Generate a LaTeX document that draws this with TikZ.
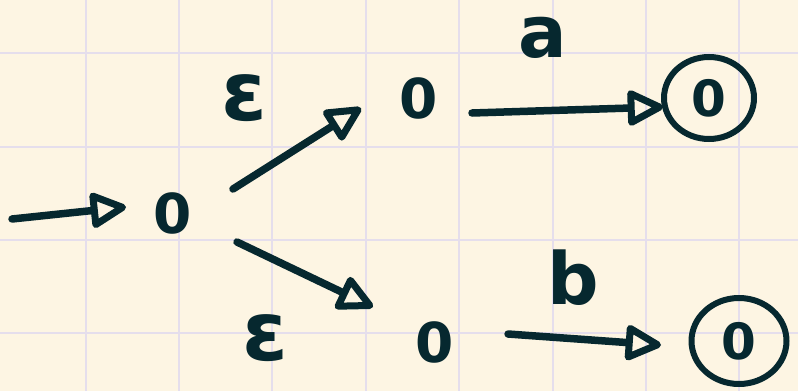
\documentclass[tikz,border=0pt]{standalone}
\usepackage{fontspec}
\setmainfont{DejaVu Sans}
\usetikzlibrary{arrows.meta,shapes.geometric}
\definecolor{ink}{RGB}{6,40,47}
\definecolor{paper}{RGB}{253,245,227}
\definecolor{gridc}{RGB}{229,222,236}
\tikzset{
  gridline/.style={draw=gridc, line width=1.6pt},
  zst/.style={font=\fontsize{55}{60}\selectfont\bfseries, text=ink, inner sep=0pt},
  accst/.style={draw=ink, line width=6pt, ellipse, inner sep=0pt, text=ink,
    font=\fontsize{50}{54}\selectfont\bfseries},
  lbl/.style={font=\fontsize{72}{76}\selectfont\bfseries, text=ink, inner sep=0pt},
  eps/.style={font=\fontsize{82}{86}\selectfont\bfseries, text=ink, inner sep=0pt},
  arr/.style={draw=ink, line width=7.5pt, line cap=round, line join=round,
    -{Triangle[open, length=40pt, width=38pt, line width=7pt, line join=round]}}
}
\begin{document}
\begin{tikzpicture}[x=1pt, y=-1pt]
\useasboundingbox (0,0) rectangle (798,391);
\fill[paper] (0,0) rectangle (798,391);
\foreach \x in {86,179,272,366,459,553,646,739} \draw[gridline] (\x,0) -- (\x,391);
\foreach \y in {53,147,240,333} \draw[gridline] (0,\y) -- (798,\y);

\node[zst] (q0) at (173,213) {0};
\node[zst] (q1) at (419,98) {0};
\node[zst] (q2) at (435,342) {0};
\node[accst, minimum width=90pt, minimum height=82pt] (q3) at (709,98) {0};
\node[accst, minimum width=95pt, minimum height=86pt] (q4) at (739,341) {0};

\coordinate (start) at (12,219);
\draw[arr] (start) -- ([shift={(-47,-6)}]q0.center);
\draw[arr] ([shift={(60,-24)}]q0.center) -- ([shift={(-58,10)}]q1.center);
\draw[arr] ([shift={(53,15)}]q1.center) -- ([shift={(-46,9)}]q3.center);
\draw[arr] ([shift={(64,29)}]q0.center) -- ([shift={(-62,-35)}]q2.center);
\draw[arr] ([shift={(73,-8)}]q2.center) -- ([shift={(-78,4)}]q4.center);

\node[eps] (e1) at (244,98) {ε};
\node[lbl] (la) at (543,38) {a};
\node[eps] (e2) at (265,338) {ε};
\node[lbl] (lb) at (573,278) {b};
\end{tikzpicture}
\end{document}
